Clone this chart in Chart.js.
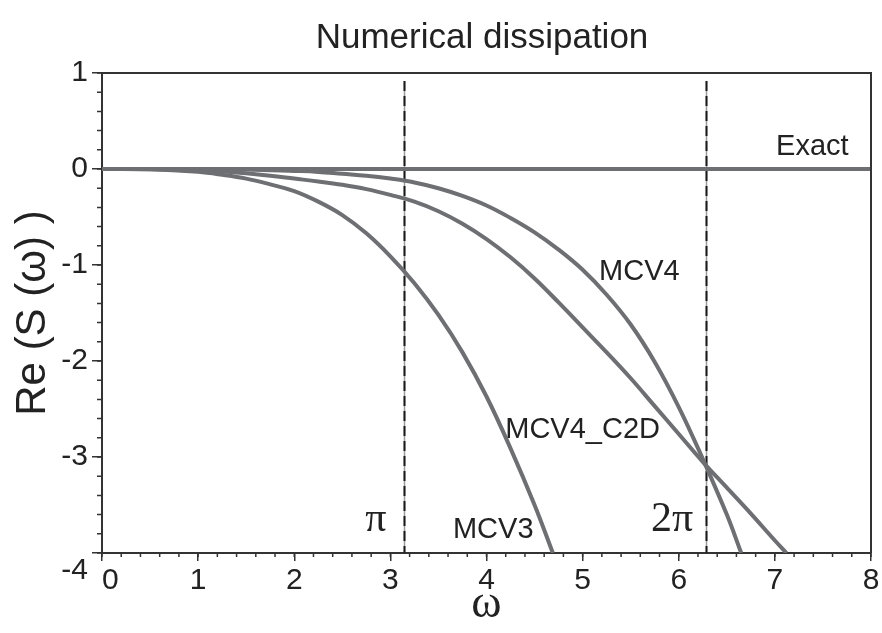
<!DOCTYPE html>
<html>
<head>
<meta charset="utf-8">
<script src="https://cdn.jsdelivr.net/npm/chart.js@4.4.1/dist/chart.umd.min.js"></script>
<style>
  html, body { margin: 0; padding: 0; background: #fff; }
  #wrap { width: 882px; height: 633px; }
</style>
</head>
<body>
<div id="wrap"><canvas id="chart" width="882" height="633"></canvas></div>
<script>
"use strict";

// omega samples and Re(S(omega))
var exactW = [0, 8];
var exactV = [0, 0];

var mcv3W = [0, 0.5, 1, 1.25, 1.5, 1.75, 2, 2.25, 2.5, 2.75, 3, 3.25, 3.5, 3.75, 4, 4.25, 4.5, 4.69];
var mcv3V = [0, -0.002, -0.03, -0.06, -0.10, -0.16, -0.23, -0.34, -0.48, -0.67, -0.91, -1.19, -1.52, -1.91, -2.37, -2.91, -3.50, -4.0];

var mcv4W = [0, 1, 1.5, 2, 2.25, 2.5, 2.75, 3, 3.25, 3.5, 3.75, 4, 4.25, 4.5, 4.75, 5, 5.25, 5.5, 5.75, 6, 6.25, 6.5, 6.65];
var mcv4V = [0, -0.001, -0.005, -0.02, -0.03, -0.05, -0.07, -0.10, -0.14, -0.20, -0.28, -0.38, -0.51, -0.66, -0.84, -1.05, -1.31, -1.62, -2.01, -2.48, -3.02, -3.60, -4.0];

var c2dW = [0, 0.5, 1, 1.25, 1.5, 1.75, 2, 2.25, 2.5, 2.75, 3, 3.25, 3.5, 3.75, 4, 4.25, 4.5, 4.75, 5, 5.25, 5.5, 5.75, 6, 6.25, 6.5, 6.75, 7, 7.12];
var c2dV = [0, -0.002, -0.012, -0.025, -0.045, -0.07, -0.10, -0.13, -0.165, -0.21, -0.27, -0.34, -0.44, -0.57, -0.73, -0.92, -1.14, -1.39, -1.65, -1.91, -2.18, -2.47, -2.76, -3.05, -3.32, -3.59, -3.87, -4.0];

// curve labels and where they sit (data coords)
var curveLabels = ['Exact', 'MCV4', 'MCV4_C2D', 'MCV3'];
var curveLabelW = [7.39, 5.59, 5.0, 4.07];
var curveLabelV = [0.23, -1.07, -2.72, -3.76];

// reference lines
var refLines = [Math.PI, 2 * Math.PI];
var refLabels = ['\u03c0', '2\u03c0'];
var refLabelW = [2.85, 5.93];
var refLabelV = [-3.66, -3.66];

var xMin = 0, xMax = 8, yMin = -4, yMax = 1;

var lineColor = '#6e6f73';
var inkColor = '#222';
var sans = "'Liberation Sans', Arial, sans-serif";
var serif = "'Liberation Serif', 'Times New Roman', serif";

function pts(w, v) {
    var out = [];
    for (var i = 0; i < w.length; i++) {
        out.push({x: w[i], y: v[i]});
    }
    return out;
}

function curve(label, w, v) {
    return {
        label: label,
        data: pts(w, v),
        borderColor: lineColor,
        borderWidth: 4,
        pointRadius: 0,
        fill: false,
        tension: 0.4
    };
}

var decorPlugin = {
    id: 'decor',
    beforeDatasetsDraw: function (chart) {
        var ctx = chart.ctx;
        var xs = chart.scales.x;
        var area = chart.chartArea;
        ctx.save();
        refLines.forEach(function (w) {
            var px = Math.round(xs.getPixelForValue(w)) + 0.5;
            ctx.beginPath();
            ctx.moveTo(px, area.top + 8);
            ctx.lineTo(px, area.bottom);
            ctx.strokeStyle = '#9a9a9a';
            ctx.lineWidth = 1.5;
            ctx.setLineDash([]);
            ctx.stroke();
            ctx.beginPath();
            ctx.moveTo(px, area.top + 8);
            ctx.lineTo(px, area.bottom);
            ctx.strokeStyle = '#1a1a1a';
            ctx.lineWidth = 2;
            ctx.setLineDash([10, 5]);
            ctx.stroke();
        });
        ctx.restore();
    },
    afterDraw: function (chart) {
        var ctx = chart.ctx;
        var xs = chart.scales.x;
        var ys = chart.scales.y;
        var area = chart.chartArea;
        var i, p;
        ctx.save();

        // frame top + right
        ctx.strokeStyle = '#333';
        ctx.lineWidth = 2;
        ctx.beginPath();
        ctx.moveTo(area.left, area.top);
        ctx.lineTo(area.right, area.top);
        ctx.lineTo(area.right, area.bottom);
        ctx.stroke();

        // minor ticks
        ctx.lineWidth = 1.5;
        ctx.beginPath();
        for (i = 0; i <= (xMax - xMin) * 5; i++) {
            p = xs.getPixelForValue(xMin + i * 0.2);
            ctx.moveTo(p, area.bottom);
            ctx.lineTo(p, area.bottom + 4);
        }
        for (i = 0; i <= (yMax - yMin) * 5; i++) {
            p = ys.getPixelForValue(yMin + i * 0.2);
            ctx.moveTo(area.left, p);
            ctx.lineTo(area.left - 5, p);
        }
        ctx.stroke();

        // title
        ctx.fillStyle = inkColor;
        ctx.textAlign = 'center';
        ctx.textBaseline = 'middle';
        ctx.font = '35px ' + sans;
        ctx.fillText('Numerical dissipation', 482, 38);

        // curve labels
        ctx.font = '29px ' + sans;
        for (i = 0; i < curveLabels.length; i++) {
            ctx.fillText(curveLabels[i], xs.getPixelForValue(curveLabelW[i]), ys.getPixelForValue(curveLabelV[i]));
        }

        // pi labels
        ctx.font = '42px ' + serif;
        for (i = 0; i < refLabels.length; i++) {
            ctx.fillText(refLabels[i], xs.getPixelForValue(refLabelW[i]), ys.getPixelForValue(refLabelV[i]));
        }
        ctx.restore();
    }
};

new Chart(document.getElementById('chart'), {
    type: 'line',
    data: {
        datasets: [
            curve('Exact', exactW, exactV),
            curve('MCV4', mcv4W, mcv4V),
            curve('MCV4_C2D', c2dW, c2dV),
            curve('MCV3', mcv3W, mcv3V)
        ]
    },
    options: {
        responsive: false,
        animation: false,
        devicePixelRatio: 1,
        layout: {padding: {top: 73, right: 11, left: 0, bottom: 0}},
        plugins: {
            legend: {display: false},
            tooltip: {enabled: false}
        },
        scales: {
            x: {
                type: 'linear',
                min: xMin,
                max: xMax,
                afterFit: function (s) { s.height = 80; },
                border: {display: true, color: '#333', width: 2},
                grid: {drawOnChartArea: false, tickLength: 8, color: '#333', lineWidth: 1.5},
                ticks: {
                    stepSize: 1,
                    padding: 2,
                    color: inkColor,
                    font: {family: sans, size: 30},
                    maxRotation: 0,
                    callback: function (v) { return v === 0 ? '  0' : String(v); }
                },
                title: {
                    display: true,
                    text: '\u03c9',
                    color: inkColor,
                    font: {family: serif, size: 46},
                    padding: {top: 0, bottom: 0}
                }
            },
            y: {
                type: 'linear',
                min: yMin,
                max: yMax,
                afterFit: function (s) { s.width = 102; },
                border: {display: true, color: '#333', width: 2},
                grid: {drawOnChartArea: false, tickLength: 10, color: '#333', lineWidth: 1.5},
                ticks: {
                    stepSize: 1,
                    padding: 4,
                    color: inkColor,
                    font: {family: sans, size: 30},
                    callback: function (v) { return v === -4 ? ['', '-4'] : String(v); }
                },
                title: {
                    display: true,
                    text: 'Re (S (\u03c9) )',
                    color: inkColor,
                    font: {family: sans, size: 42},
                    padding: {top: 8, bottom: 0}
                }
            }
        }
    },
    plugins: [decorPlugin]
});
</script>
</body>
</html>
